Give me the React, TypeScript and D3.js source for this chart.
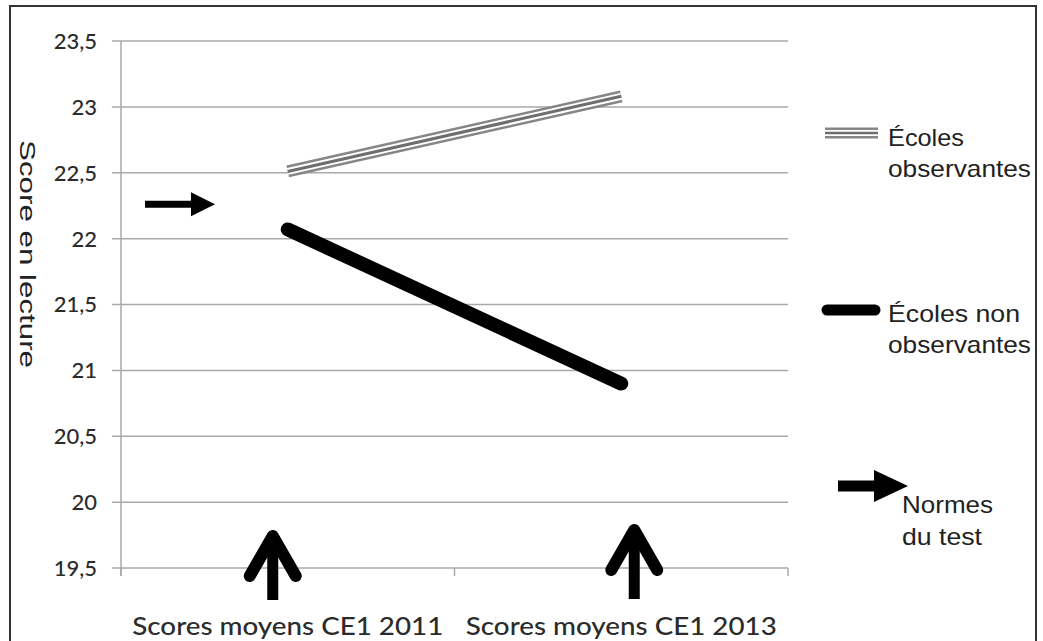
import React from "react";
import * as d3 from "d3";

const categories = ["Scores moyens CE1 2011", "Scores moyens CE1 2013"];
const observantes = [22.51, 23.08];
const nonObservantes = [22.07, 20.9];
const yTicks = [19.5, 20, 20.5, 21, 21.5, 22, 22.5, 23, 23.5];
const yTickLabels = ["19,5", "20", "20,5", "21", "21,5", "22", "22,5", "23", "23,5"];
const normValue = 22.26;
const yTitle = "Score en lecture";
const legendObs = ["Écoles", "observantes"];
const legendNon = ["Écoles non", "observantes"];
const legendNorm = ["Normes", "du test"];

const W = 1043;
const H = 641;
const plot = { left: 121, right: 788, top: 41, bottom: 568 };

export default function App() {
  const x = d3
    .scaleBand<string>()
    .domain(categories)
    .range([plot.left, plot.right])
    .padding(0);
  const y = d3.scaleLinear().domain([19.5, 23.5]).range([plot.bottom, plot.top]);
  const cx = (i: number) => (x(categories[i]) as number) + x.bandwidth() / 2;

  const line = d3
    .line<number>()
    .x((_, i) => cx(i))
    .y((d) => y(d));

  const obsPath = line(observantes) || "";
  const nonPath = line(nonObservantes) || "";

  const grid = "#a9a9a9";
  const tickFont = "Lato, 'Open Sans', sans-serif";
  const arial = "'Liberation Sans', Arial, sans-serif";

  const rightArrow = (x0: number, x1: number, yc: number, shaftH: number, headW: number, headH: number) => {
    const hx = x1 - headW;
    return `M${x0},${yc - shaftH / 2} L${hx},${yc - shaftH / 2} L${hx},${yc - headH} L${x1},${yc} L${hx},${yc + headH} L${hx},${yc + shaftH / 2} L${x0},${yc + shaftH / 2} Z`;
  };

  const upArrows = [
    { xc: cx(0) - 15, tip: 531, bottom: 600 },
    { xc: cx(1) + 13, tip: 525, bottom: 599 },
  ];

  const boundaries = [plot.left, x(categories[1]) as number, plot.right];
  const legendSize = 24;

  return (
    <svg
      width={W}
      height={H}
      style={{ position: "absolute", left: 0, top: 0, background: "#fff" }}
    >
      <rect x={0} y={0} width={W} height={H} fill="#fff" />
      <rect x={10} y={6} width={1026} height={700} fill="none" stroke="#333" strokeWidth={2} />

      {yTicks.map((t) => (
        <line
          key={t}
          x1={plot.left - 9}
          x2={plot.right}
          y1={y(t)}
          y2={y(t)}
          stroke={grid}
          strokeWidth={1.5}
        />
      ))}
      <line x1={plot.left} x2={plot.left} y1={plot.top} y2={plot.bottom + 8} stroke={grid} strokeWidth={1.5} />
      {boundaries.map((b, i) => (
        <line key={i} x1={b} x2={b} y1={plot.bottom} y2={plot.bottom + 8} stroke={grid} strokeWidth={1.5} />
      ))}

      {yTicks.map((t, i) => (
        <text
          key={t}
          x={97}
          y={y(t)}
          dy="0.36em"
          textAnchor="end"
          fontFamily={tickFont}
          fontSize={22}
          fontWeight={500}
          fill="#2b2b2b"
        >
          {yTickLabels[i]}
        </text>
      ))}

      {categories.map((c, i) => (
        <text
          key={c}
          x={cx(i)}
          y={635}
          textAnchor="middle"
          fontFamily={tickFont}
          fontSize={25}
          fontWeight={500}
          fill="#2b2b2b"
          textLength={311}
          lengthAdjust="spacingAndGlyphs"
        >
          {c}
        </text>
      ))}

      <text
        transform={`translate(20,254) rotate(90)`}
        textAnchor="middle"
        fontFamily={arial}
        fontSize={22}
        fill="#222"
        textLength={228}
        lengthAdjust="spacingAndGlyphs"
      >
        {yTitle}
      </text>

      {/* observantes series (triple stripe) */}
      <path d={obsPath} fill="none" stroke="#868686" strokeWidth={12} />
      <path d={obsPath} fill="none" stroke="#fff" strokeWidth={7} />
      <path d={obsPath} fill="none" stroke="#6e6e6e" strokeWidth={3} />

      <path d={nonPath} fill="none" stroke="#000" strokeWidth={14} strokeLinecap="round" />

      <path d={rightArrow(145, 215, y(normValue), 7, 24, 12)} fill="#000" />

      {upArrows.map((a, i) => (
        <g key={i}>
          <line x1={a.xc} x2={a.xc} y1={a.tip + 4} y2={a.bottom} stroke="#000" strokeWidth={11} />
          <path
            d={`M${a.xc - 23},${a.tip + 45} L${a.xc},${a.tip + 5} L${a.xc + 23},${a.tip + 45}`}
            fill="none"
            stroke="#000"
            strokeWidth={12}
            strokeLinecap="round"
            strokeLinejoin="round"
          />
        </g>
      ))}

      <g>
        <line x1={825} x2={878} y1={133} y2={133} stroke="#868686" strokeWidth={11} />
        <line x1={825} x2={878} y1={133} y2={133} stroke="#fff" strokeWidth={6} />
        <line x1={825} x2={878} y1={133} y2={133} stroke="#6e6e6e" strokeWidth={2.5} />
        <text x={888} y={146} fontFamily={arial} fontSize={legendSize} fill="#222" textLength={76} lengthAdjust="spacingAndGlyphs">
          {legendObs[0]}
        </text>
        <text x={888} y={177} fontFamily={arial} fontSize={legendSize} fill="#222" textLength={143} lengthAdjust="spacingAndGlyphs">
          {legendObs[1]}
        </text>
      </g>

      <g>
        <line x1={827} x2={875} y1={310} y2={310} stroke="#000" strokeWidth={11} strokeLinecap="round" />
        <text x={888} y={322} fontFamily={arial} fontSize={legendSize} fill="#222" textLength={132} lengthAdjust="spacingAndGlyphs">
          {legendNon[0]}
        </text>
        <text x={888} y={353} fontFamily={arial} fontSize={legendSize} fill="#222" textLength={143} lengthAdjust="spacingAndGlyphs">
          {legendNon[1]}
        </text>
      </g>

      <g>
        <path d={rightArrow(838, 908, 486, 11, 34, 16)} fill="#000" />
        <text x={902} y={513} fontFamily={arial} fontSize={legendSize} fill="#222" textLength={91} lengthAdjust="spacingAndGlyphs">
          {legendNorm[0]}
        </text>
        <text x={902} y={545} fontFamily={arial} fontSize={legendSize} fill="#222" textLength={80} lengthAdjust="spacingAndGlyphs">
          {legendNorm[1]}
        </text>
      </g>
    </svg>
  );
}
